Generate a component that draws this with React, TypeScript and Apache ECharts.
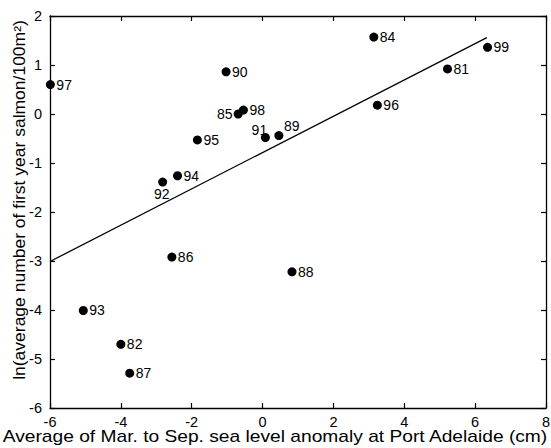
import React, { useEffect, useRef } from "react";
import * as echarts from "echarts";

const years = ["97", "90", "85", "98", "95", "91", "89", "94", "92", "84", "99", "81", "96", "86", "93", "82", "87", "88"];
const seaLevel = [-5.99, -1.03, -0.69, -0.54, -1.84, 0.08, 0.46, -2.4, -2.82, 3.14, 6.35, 5.22, 3.24, -2.56, -5.06, -4.0, -3.75, 0.83];
const lnSalmon = [0.6, 0.86, 0.0, 0.08, -0.53, -0.48, -0.44, -1.26, -1.39, 1.57, 1.36, 0.92, 0.18, -2.92, -4.01, -4.7, -5.29, -3.22];
const fitLine = [[-6, -3.01], [6.33, 1.56]];

const xTitle = "Average of Mar. to Sep. sea level anomaly at Port Adelaide (cm)";
const yTitle = "ln(average number of first year salmon/100m\u00B2)";

const FONT = "Liberation Sans, Arial, Helvetica, sans-serif";

export default function App() {
  const ref = useRef<HTMLDivElement>(null);
  useEffect(() => {
    if (!ref.current) return;
    const chart = echarts.init(ref.current, null, { renderer: "svg" });
    const labelFor = (y: string): any => {
      if (y === "85") return { position: "left", distance: 1 };
      if (y === "92") return { position: "inside", offset: [-1, 12] };
      if (y === "91") return { position: "inside", offset: [-6, -8] };
      if (y === "89") return { position: "inside", offset: [13, -10] };
      return { position: "right", distance: 1.5 };
    };
    const pts = years.map((yr, i) => ({
      value: [seaLevel[i], lnSalmon[i]],
      name: yr,
      label: { show: true, formatter: yr, ...labelFor(yr) },
    }));
    const axisCommon = {
      axisLine: { show: true, onZero: false, lineStyle: { color: "#000", width: 1.3 } },
      axisTick: { show: true, inside: true, length: 5, lineStyle: { color: "#000", width: 1.2 } },
      splitLine: { show: false },
    };
    chart.setOption({
      animation: false,
      backgroundColor: "#fff",
      grid: { left: 50, top: 16, right: 5, bottom: 40, containLabel: false, outerBoundsMode: "none" },
      xAxis: [
        {
          type: "value", min: -6, max: 8, interval: 2, position: "bottom",
          ...axisCommon,
          axisLabel: { color: "#000", fontSize: 14.5, fontFamily: FONT, margin: 6 },
        },
        {
          type: "value", min: -6, max: 8, interval: 2, position: "top",
          ...axisCommon, axisLabel: { show: false },
        },
      ],
      yAxis: [
        {
          type: "value", min: -6, max: 2, interval: 1, position: "left",
          ...axisCommon,
          axisLabel: { color: "#000", fontSize: 14.5, fontFamily: FONT, margin: 8 },
        },
        {
          type: "value", min: -6, max: 2, interval: 1, position: "right",
          ...axisCommon, axisLabel: { show: false },
        },
      ],
      graphic: [
        {
          type: "text", x: 275, y: 437, scaleX: 1.2,
          style: { text: xTitle, fill: "#000", fontSize: 16, fontFamily: FONT, align: "center", verticalAlign: "middle" },
        },
        {
          type: "text", x: 20, y: 200, rotation: Math.PI / 2, scaleX: 1.06,
          style: { text: yTitle, fill: "#000", fontSize: 16.5, fontFamily: FONT, align: "center", verticalAlign: "middle" },
        },
      ],
      series: [
        {
          type: "line",
          data: fitLine,
          symbol: "none",
          lineStyle: { color: "#000", width: 1.3 },
          silent: true,
        },
        {
          type: "scatter",
          data: pts,
          symbol: "circle",
          symbolSize: 9,
          itemStyle: { color: "#000", opacity: 1 },
          label: { color: "#000", fontSize: 14, fontFamily: FONT },
        },
      ],
    });
    return () => chart.dispose();
  }, []);
  return <div ref={ref} style={{ position: "absolute", left: 0, top: 0, width: 551, height: 448 }} />;
}
